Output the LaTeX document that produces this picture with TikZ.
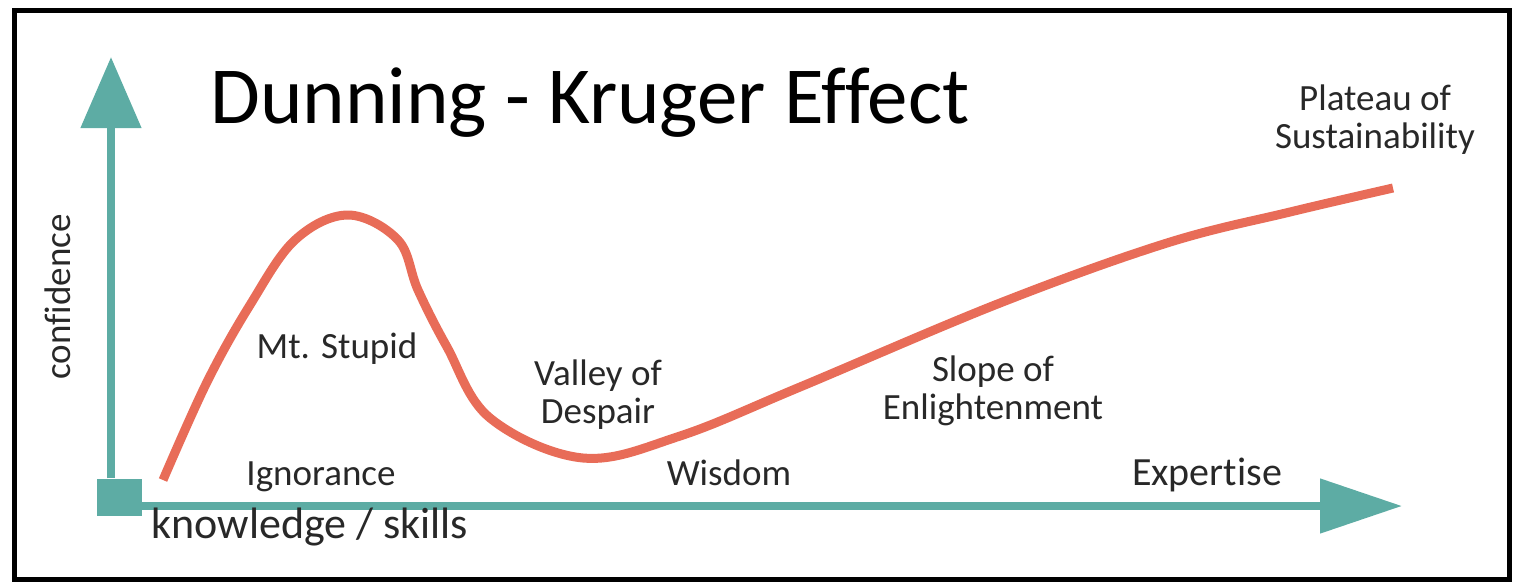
\documentclass[tikz,border=0pt]{standalone}
\usepackage{fontspec}
\setmainfont{Carlito}[Ligatures={NoCommon}]
\usetikzlibrary{arrows.meta}
\definecolor{axisteal}{RGB}{93,172,164}
\definecolor{curvered}{RGB}{232,108,88}
\definecolor{labelgray}{RGB}{40,40,40}

\begin{document}
\begin{tikzpicture}[x=1pt,y=-1pt,
  lbl/.style={text=labelgray,inner sep=0pt,align=center,anchor=base,
    font=\fontsize{37}{38}\selectfont},
  axis/.style={draw=axisteal,line width=8pt}]
  \useasboundingbox (0,0) rectangle (1517,582);
  \draw[line width=5pt] (14.5,10.5) rectangle (1509.5,579.5);
  \node[fill=axisteal,minimum width=45pt,minimum height=37pt,inner sep=0pt]
    (orig) at (119.5,497) {};
  \coordinate (ytip) at (111,57);
  \coordinate (xtip) at (1402,506);
  \draw[axis,-{Triangle[length=71pt,width=59pt]}] (orig.north -| ytip) -- (ytip);
  \draw[axis,-{Triangle[length=82pt,width=53pt]}] (orig.east |- xtip) -- (xtip);
  \draw[curvered,line width=9pt] plot[smooth,tension=0.6] coordinates {
    (163,480) (207,382) (250,305) (295,240) (348,215) (398,240)
    (418,290) (447,347) (490,418) (583,458) (680,436) (800,387)
    (1000,303) (1167,243) (1290,212) (1393,188)};
  \node[anchor=base,inner sep=0pt,font=\fontsize{81}{81}\selectfont]
    (title) at (590,123) {Dunning - Kruger Effect};
  \node[lbl,rotate=90] (conf) at (70,297) {confidence};
  \node[lbl] (stupid) at (337,358) {Mt. Stupid};
  \node[lbl] (ignor) at (321,485) {Ignorance};
  \node[lbl,font=\fontsize{44}{44}\selectfont] (know) at (310,538)
    {knowledge / skills};
  \node[lbl] (valley) at (598,423) {Valley of\\Despair};
  \node[lbl] (wisdom) at (729,485) {Wisdom};
  \node[lbl] (slope) at (993,419) {Slope of\\Enlightenment};
  \node[lbl,font=\fontsize{40}{40}\selectfont] (expert) at (1207,485)
    {Expertise};
  \node[lbl] (plateau) at (1375,148) {Plateau of\\Sustainability};
\end{tikzpicture}
\end{document}
